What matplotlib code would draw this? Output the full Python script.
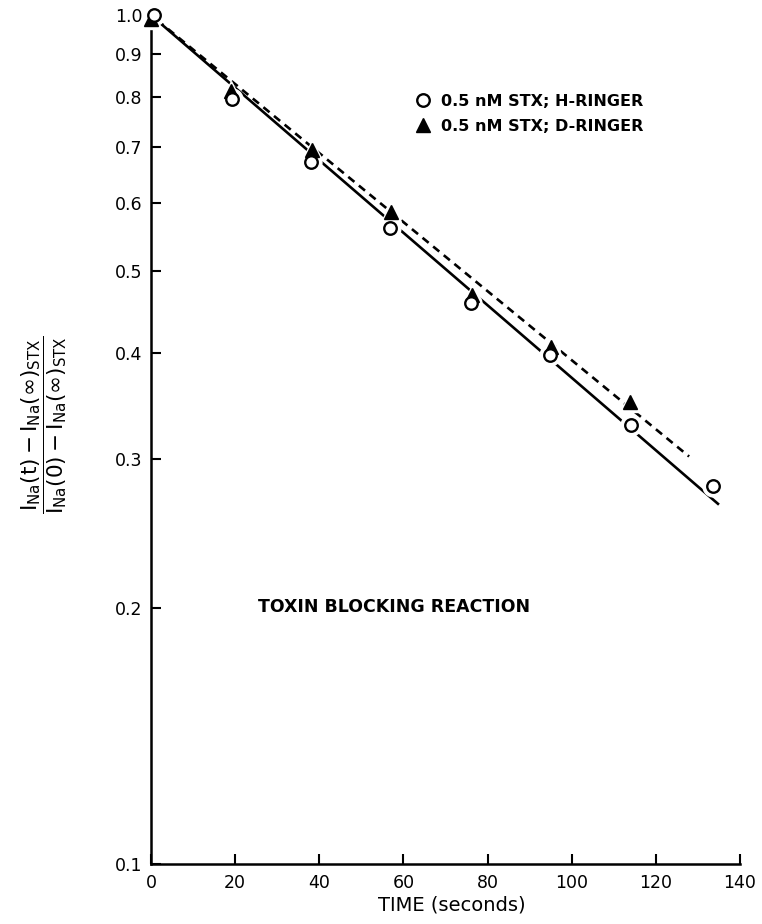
import matplotlib
matplotlib.use("Agg")
import matplotlib.pyplot as plt
from matplotlib.lines import Line2D
from matplotlib.ticker import FixedLocator, FixedFormatter, NullLocator

# ---- data ----
t_h = [0.8, 19.3, 38.1, 56.9, 76.0, 94.8, 114.0, 133.6]
y_h = [1.0, 0.796, 0.671, 0.561, 0.458, 0.398, 0.329, 0.279]
t_d = [0.0, 19.0, 38.3, 57.1, 76.2, 95.0, 113.8]
y_d = [0.99, 0.813, 0.693, 0.586, 0.468, 0.406, 0.350]
fit_h_t = [2.0, 135.0]
fit_h_y = [0.98, 0.265]
fit_d_t = [1.5, 127.9]
fit_d_y = [0.986, 0.302]
x_ticks = [0, 20, 40, 60, 80, 100, 120, 140]
x_ticklabels = ["0", "20", "40", "60", "80", "100", "120", "140"]
y_ticks = [0.1, 0.2, 0.3, 0.4, 0.5, 0.6, 0.7, 0.8, 0.9, 1.0]
y_ticklabels = ["0.1", "0.2", "0.3", "0.4", "0.5", "0.6", "0.7", "0.8", "0.9", "1.0"]
label_h = "0.5 nM STX; H-RINGER"
label_d = "0.5 nM STX; D-RINGER"
annotation = "TOXIN BLOCKING REACTION"

plt.rcParams['font.family'] = ['DejaVu Sans']

W, H = 762, 924
fig = plt.figure(figsize=(W / 100, H / 100), dpi=100)
ax = fig.add_axes([151 / W, 1 - 864 / H, (740 - 151) / W, (864 - 15) / H])
ax.set_yscale('log')
ax.set_xlim(0, 140)
ax.set_ylim(0.1, 1.0)

for s in ['top', 'right']:
    ax.spines[s].set_visible(False)
for s in ['left', 'bottom']:
    ax.spines[s].set_linewidth(1.8)

ax.yaxis.set_major_locator(FixedLocator(y_ticks))
ax.yaxis.set_major_formatter(FixedFormatter(y_ticklabels))
ax.yaxis.set_minor_locator(NullLocator())
ax.set_xticks(x_ticks)
ax.set_xticklabels(x_ticklabels)
ax.tick_params(direction='in', length=7, width=1.5, labelsize=12.5, pad=6)
ax.tick_params(axis='x', pad=7)
for lab in ax.get_xticklabels() + ax.get_yticklabels():
    lab.set_fontweight('medium')

# fitted lines
ax.plot(fit_h_t, fit_h_y, color='black', lw=1.9, zorder=2, solid_capstyle='butt')
ax.plot(fit_d_t, fit_d_y, color='black', lw=1.9, ls=(0, (3.0, 2.2)), zorder=2)

# white halos to break lines around markers
ax.plot(t_h, y_h, 'o', ms=15, mfc='white', mec='white', zorder=3, clip_on=False)
ax.plot(t_d, y_d, '^', ms=15, mfc='white', mec='white', zorder=3, clip_on=False)

# markers
ax.plot(t_d, y_d, '^', ms=10, mfc='black', mec='black', zorder=4, clip_on=False)
ax.plot(t_h, y_h, 'o', ms=9, mfc='white', mec='black', mew=1.7, zorder=5, clip_on=False)

# legend
h1 = Line2D([], [], ls='none', marker='o', ms=9, mfc='white', mec='black', mew=1.7)
h2 = Line2D([], [], ls='none', marker='^', ms=10, mfc='black', mec='black')
fig.legend([h1, h2], [label_h, label_d], loc='upper left',
           bbox_to_anchor=(415 / W, 1 - 94 / H), frameon=False,
           handlelength=1.0, handletextpad=0.6, labelspacing=0.62,
           prop={'size': 11.5, 'weight': 'bold'}, borderpad=0, borderaxespad=0)

fig.text(394 / W, 1 - 607 / H, annotation, ha='center', va='center',
         fontsize=12.5, fontweight='bold')

ax.set_xlabel("TIME (seconds)", fontsize=14)
ax.xaxis.set_label_coords(0.51, -0.037)

ylabel = r'$\dfrac{\mathrm{I}_{\mathrm{Na}}(\mathrm{t}) - \mathrm{I}_{\mathrm{Na}}(\infty)_{\mathrm{STX}}}{\mathrm{I}_{\mathrm{Na}}(0) - \mathrm{I}_{\mathrm{Na}}(\infty)_{\mathrm{STX}}}$'
fig.text(44 / W, 1 - 425 / H, ylabel, rotation=90, ha='center', va='center',
         fontsize=15.5)

fig.savefig('out.png', dpi=100)
